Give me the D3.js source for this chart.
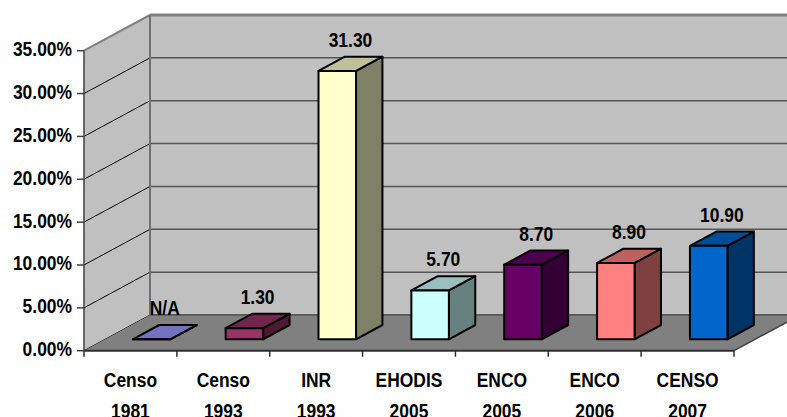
<!DOCTYPE html>
<html>
<head>
<meta charset="utf-8">
<script src="https://cdn.jsdelivr.net/npm/d3@7"></script>
<style>
  html, body { margin: 0; padding: 0; background: #ffffff; }
  svg { display: block; }
  text { font-weight: bold; fill: #000; }
</style>
</head>
<body>
<svg id="chart" width="787" height="417"></svg>
<script>
// Categories (two-line labels: survey name, year)
const categories = ["Censo 1981", "Censo 1993", "INR 1993", "EHODIS 2005", "ENCO 2005", "ENCO 2006", "CENSO 2007"];
// Prevalence values in percent; null = not available
const values = [null, 1.30, 31.30, 5.70, 8.70, 8.90, 10.90];
// Value axis ticks
const yTicks = [0, 5, 10, 15, 20, 25, 30, 35];
// Front face colour of each column
const barColors = ["#9999FF", "#993366", "#FFFFCC", "#CCFFFF", "#660066", "#FF8080", "#0066CC"];

const svg = d3.select("#chart");

// Prefer a narrow sans face; otherwise condense the regular one horizontally
const ctx = document.createElement("canvas").getContext("2d");
ctx.font = "bold 21px 'Liberation Sans Narrow', monospace";
const wNarrow = ctx.measureText("Censo 1981").width;
ctx.font = "bold 21px monospace";
const wMono = ctx.measureText("Censo 1981").width;
const hasNarrow = Math.abs(wNarrow - wMono) > 0.5;
const fontFamily = hasNarrow ? "'Liberation Sans Narrow', sans-serif" : "'Liberation Sans', Arial, sans-serif";
const textScale = hasNarrow ? 1 : 0.83;

// Plot frame and 3D depth vector
const left = 84, right = 734;
const floorFront = 350.7, plotTop = 50.7;
const depthX = 66, depthY = -35.7;
const backRight = right + depthX + 10;

const x = d3.scaleBand().domain(categories).range([left, right]);
const y = d3.scaleLinear().domain([0, 35]).range([floorFront, plotTop]);

const pt = (px, py, d) => [px + d * depthX, py + d * depthY];
const poly = pts => pts.map(p => p.join(",")).join(" ");
const fmtPct = d3.format(".2f");

function label(g, txt, tx, ty, anchor) {
  g.append("text")
    .attr("transform", `translate(${tx},${ty}) scale(${textScale},1)`)
    .attr("text-anchor", anchor)
    .attr("font-family", fontFamily)
    .attr("font-size", 21)
    .text(txt);
}

// Walls
const backX = left + depthX;
const backTopY = y(35) + depthY;
const backFloorY = floorFront + depthY;
svg.append("polygon")
  .attr("points", poly([[backX, backTopY], [backRight, backTopY], [backRight, backFloorY], [backX, backFloorY]]))
  .attr("fill", "#c0c0c0");
svg.append("polygon")
  .attr("points", poly([[left, y(35)], [backX, backTopY], [backX, backFloorY], [left, floorFront]]))
  .attr("fill", "#c0c0c0");

// Gridlines on back wall and side wall
yTicks.forEach(t => {
  const yb = y(t) + depthY;
  const top = t === 35;
  svg.append("line")
    .attr("x1", backX).attr("y1", yb).attr("x2", backRight).attr("y2", yb)
    .attr("stroke", top ? "#808080" : "#555555").attr("stroke-width", top ? 3 : 1.5);
  svg.append("line")
    .attr("x1", left).attr("y1", y(t)).attr("x2", backX).attr("y2", yb)
    .attr("stroke", top ? "#808080" : "#000000").attr("stroke-width", top ? 2 : 1);
});
// Back corner
svg.append("line")
  .attr("x1", backX).attr("y1", backTopY).attr("x2", backX).attr("y2", backFloorY)
  .attr("stroke", "#707070").attr("stroke-width", 2);

// Floor
svg.append("polygon")
  .attr("points", poly([[left, floorFront], [right, floorFront], [right + depthX, backFloorY], [backX, backFloorY]]))
  .attr("fill", "#808080");
svg.append("line")
  .attr("x1", right).attr("y1", floorFront).attr("x2", right + depthX).attr("y2", backFloorY)
  .attr("stroke", "#404040").attr("stroke-width", 1.5);
svg.append("line")
  .attr("x1", backX).attr("y1", backFloorY).attr("x2", backRight).attr("y2", backFloorY)
  .attr("stroke", "#555555").attr("stroke-width", 1.5);

// Value axis
svg.append("line")
  .attr("x1", left).attr("y1", y(35)).attr("x2", left).attr("y2", floorFront)
  .attr("stroke", "#404040").attr("stroke-width", 1.5);
const yAxisG = svg.append("g");
yTicks.forEach(t => {
  yAxisG.append("line")
    .attr("x1", left - 7).attr("x2", left).attr("y1", y(t)).attr("y2", y(t))
    .attr("stroke", "#404040").attr("stroke-width", 1.5);
  label(yAxisG, fmtPct(t) + "%", left - 12, y(t) + 5.5, "end");
});

// Category axis
svg.append("line")
  .attr("x1", left).attr("y1", floorFront).attr("x2", right).attr("y2", floorFront)
  .attr("stroke", "#303030").attr("stroke-width", 2);
const xAxisG = svg.append("g");
const tickXs = categories.map(c => x(c)).concat([right]);
tickXs.forEach(tx => {
  xAxisG.append("line")
    .attr("x1", tx).attr("x2", tx).attr("y1", floorFront).attr("y2", floorFront + 6)
    .attr("stroke", "#303030").attr("stroke-width", 1.5);
});
categories.forEach(c => {
  const [l1, l2] = c.split(" ");
  const cx = x(c) + x.bandwidth() / 2;
  label(xAxisG, l1, cx, 386.7, "middle");
  label(xAxisG, l2, cx, 418, "middle");
});

// Columns
const dFront = 0.32, dDepth = 0.4;
const bw = x.bandwidth() * 0.404;
const barsG = svg.append("g");
categories.forEach((c, i) => {
  const v = values[i] == null ? 0 : values[i];
  const col = d3.color(barColors[i]);
  const topCol = d3.rgb(col.r * 0.75, col.g * 0.75, col.b * 0.75);
  const sideCol = d3.rgb(col.r * 0.5, col.g * 0.5, col.b * 0.5);
  const x0 = x(c) + (x.bandwidth() - bw) / 2;
  const x1 = x0 + bw;
  const f00 = pt(x0, y(0), dFront), f10 = pt(x1, y(0), dFront);
  const f01 = pt(x0, y(v), dFront), f11 = pt(x1, y(v), dFront);
  const b01 = pt(x0, y(v), dFront + dDepth), b11 = pt(x1, y(v), dFront + dDepth);
  const b10 = pt(x1, y(0), dFront + dDepth);
  const g = barsG.append("g")
    .attr("stroke", "#000").attr("stroke-width", 2).attr("stroke-linejoin", "round");
  g.append("polygon").attr("points", poly([f10, b10, b11, f11])).attr("fill", sideCol);
  g.append("polygon").attr("points", poly([f01, f11, b11, b01])).attr("fill", topCol);
  g.append("polygon").attr("points", poly([f00, f10, f11, f01])).attr("fill", col);

  const lx = (f01[0] + b11[0]) / 2;
  const ly = f01[1] - 24;
  label(barsG, values[i] == null ? "N/A" : fmtPct(values[i]), lx, ly, "middle");
});
</script>
</body>
</html>
